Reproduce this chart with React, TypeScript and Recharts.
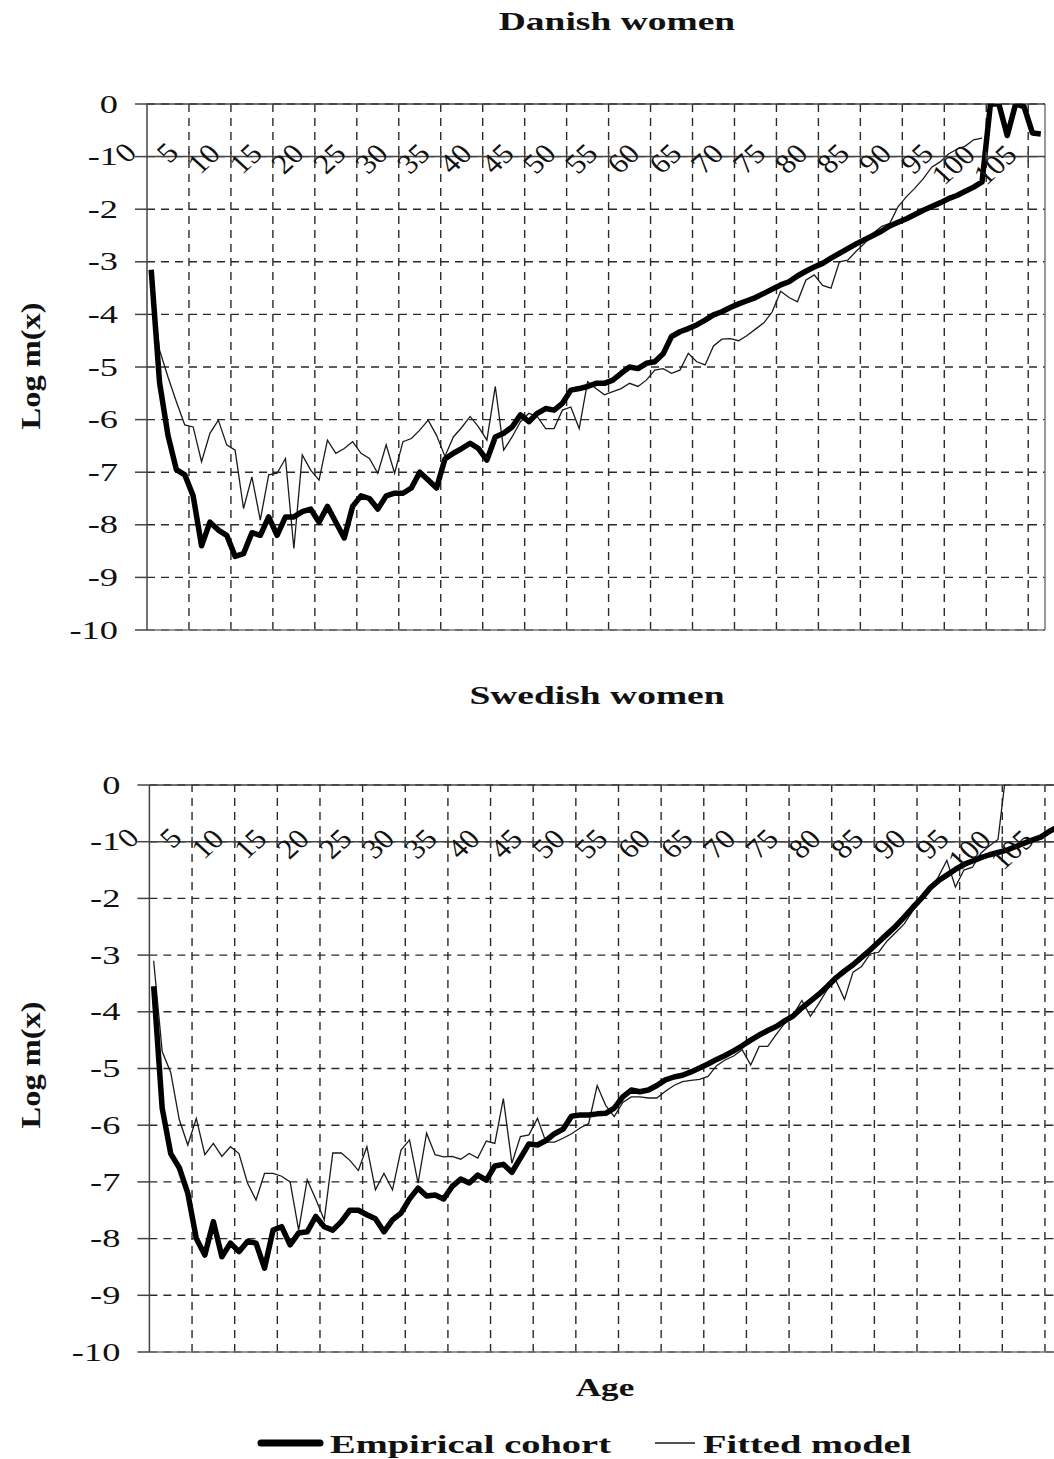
import { CartesianGrid, Line, LineChart, ReferenceDot, ReferenceLine, XAxis, YAxis } from 'recharts'

// Log mortality by age, Danish and Swedish women: empirical cohort vs fitted model.
const AGES = [
  0, 1, 2, 3, 4, 5, 6, 7, 8, 9, 10, 11, 12, 13, 14, 15, 16, 17, 18, 19, 20, 21, 22, 23, 24, 25, 26, 27, 28, 29,
  30, 31, 32, 33, 34, 35, 36, 37, 38, 39, 40, 41, 42, 43, 44, 45, 46, 47, 48, 49, 50, 51, 52, 53, 54, 55, 56, 57,
  58, 59, 60, 61, 62, 63, 64, 65, 66, 67, 68, 69, 70, 71, 72, 73, 74, 75, 76, 77, 78, 79, 80, 81, 82, 83, 84, 85,
  86, 87, 88, 89, 90, 91, 92, 93, 94, 95, 96, 97, 98, 99, 100, 101, 102, 103, 104, 105, 106,
]
const AGE_LABELS = [0, 5, 10, 15, 20, 25, 30, 35, 40, 45, 50, 55, 60, 65, 70, 75, 80, 85, 90, 95, 100, 105]
// category boundaries, where Excel put the vertical gridlines
const GRID_AGES = [4.5, 9.5, 14.5, 19.5, 24.5, 29.5, 34.5, 39.5, 44.5, 49.5, 54.5, 59.5, 64.5, 69.5, 74.5, 79.5, 84.5, 89.5, 94.5, 99.5, 104.5]
const Y_TICKS = [0, -1, -2, -3, -4, -5, -6, -7, -8, -9, -10]

const DANISH_EMPIRICAL = [
  -3.15, -5.3, -6.3, -6.95, -7.05, -7.45, -8.4, -7.95, -8.1, -8.2, -8.6, -8.55, -8.15, -8.2, -7.85, -8.2, -7.85,
  -7.85, -7.75, -7.7, -7.95, -7.65, -7.95, -8.25, -7.65, -7.45, -7.5, -7.7, -7.45, -7.4, -7.4, -7.3, -7.0, -7.15,
  -7.3, -6.75, -6.64, -6.55, -6.45, -6.55, -6.77, -6.33, -6.26, -6.14, -5.91, -6.04, -5.88, -5.79, -5.82, -5.69,
  -5.44, -5.41, -5.37, -5.31, -5.31, -5.25, -5.12, -5.0, -5.03, -4.93, -4.9, -4.75, -4.42, -4.33, -4.27, -4.2,
  -4.11, -4.01, -3.95, -3.87, -3.8, -3.74, -3.68, -3.6, -3.52, -3.44, -3.38, -3.27, -3.18, -3.1, -3.03, -2.93,
  -2.84, -2.75, -2.66, -2.58, -2.5, -2.42, -2.32, -2.25, -2.18, -2.1, -2.02, -1.95, -1.88, -1.8, -1.74, -1.66,
  -1.58, -1.48, 0, 0, -0.6, 0, -0.05, -0.55, -0.57,
]
const DANISH_FITTED = [
  -3.3, -4.68, -5.19, -5.66, -6.1, -6.14, -6.8, -6.26, -6.01, -6.48, -6.58, -7.69, -7.09, -7.91, -7.05, -7.02,
  -6.74, -8.45, -6.67, -6.96, -7.15, -6.39, -6.64, -6.55, -6.42, -6.64, -6.74, -7.02, -6.48, -7.02, -6.42, -6.36,
  -6.2, -6.01, -6.3, -6.7, -6.33, -6.15, -5.94, -6.14, -6.39, -5.37, -6.58, -6.33, -6.04, -5.88, -5.94, -6.17,
  -6.17, -5.82, -5.76, -6.17, -5.28, -5.41, -5.53, -5.47, -5.41, -5.31, -5.37, -5.25, -5.06, -5.03, -5.12, -5.06,
  -4.74, -4.9, -4.96, -4.6, -4.47, -4.46, -4.5, -4.4, -4.28, -4.16, -3.95, -3.56, -3.68, -3.76, -3.35, -3.25,
  -3.45, -3.5, -3.0, -2.97, -2.8, -2.65, -2.46, -2.33, -2.27, -1.95, -1.76, -1.6, -1.42, -1.2, -1.1, -0.95, -0.86,
  -0.8, -0.68, -0.65, null, null, null, null, null, null, null,
]
const SWEDISH_EMPIRICAL = [
  -3.55, -5.7, -6.5, -6.75, -7.2, -8.0, -8.29, -7.7, -8.32, -8.08, -8.23, -8.05, -8.08, -8.52, -7.85, -7.79, -8.11,
  -7.9, -7.88, -7.61, -7.79, -7.85, -7.7, -7.5, -7.5, -7.58, -7.65, -7.88, -7.67, -7.55, -7.3, -7.11, -7.25, -7.23,
  -7.3, -7.08, -6.95, -7.02, -6.88, -6.97, -6.72, -6.69, -6.83, -6.58, -6.33, -6.35, -6.27, -6.15, -6.07, -5.84,
  -5.82, -5.82, -5.8, -5.79, -5.7, -5.5, -5.38, -5.41, -5.38, -5.3, -5.2, -5.15, -5.12, -5.06, -4.99, -4.92, -4.84,
  -4.77, -4.69, -4.6, -4.5, -4.41, -4.33, -4.26, -4.16, -4.07, -3.93, -3.81, -3.69, -3.55, -3.4, -3.28, -3.17,
  -3.04, -2.91, -2.77, -2.63, -2.49, -2.33, -2.16, -2.0, -1.82, -1.69, -1.59, -1.49, -1.4, -1.34, -1.28, -1.23,
  -1.19, -1.15, -1.09, -1.03, -0.97, -0.92, -0.82, -0.74,
]
const SWEDISH_FITTED = [
  -3.1, -4.7, -5.07, -5.9, -6.35, -5.88, -6.52, -6.32, -6.55, -6.38, -6.5, -7.02, -7.32, -6.85, -6.85, -6.9, -7.0,
  -7.85, -6.96, -7.3, -7.67, -6.49, -6.49, -6.62, -6.8, -6.38, -7.14, -6.85, -7.14, -6.44, -6.26, -7.02, -6.14,
  -6.52, -6.56, -6.55, -6.6, -6.5, -6.58, -6.28, -6.32, -5.53, -6.67, -6.2, -6.17, -5.88, -6.3, -6.3, -6.23, -6.15,
  -6.05, -5.97, -5.3, -5.65, -5.85, -5.6, -5.5, -5.5, -5.52, -5.52, -5.4, -5.3, -5.23, -5.21, -5.19, -5.14, -4.95,
  -4.85, -4.78, -4.67, -4.94, -4.61, -4.61, -4.4, -4.2, -4.05, -3.8, -4.08, -3.85, -3.6, -3.45, -3.78, -3.3, -3.2,
  -2.98, -2.95, -2.75, -2.6, -2.45, -2.22, -2.05, -1.88, -1.62, -1.33, -1.8, -1.5, -1.45, -1.2, -1.07, -0.96, 0.3,
  null, null, null, null, null, null,
]

const SERIF = '"Liberation Serif", "Times New Roman", serif'
const INK = '#111'
const GRID = '#2a2a2a'
const AXIS = '#444'

const YTick = (p: any) => (
  <text
    transform={`translate(${p.x},${p.y}) scale(1.4,1)`}
    textAnchor="end"
    dominantBaseline="central"
    fontSize={26}
    fontFamily={SERIF}
    fill={INK}
  >
    {p.payload.value}
  </text>
)

// Excel drew the age labels rotated and sitting on the axis that crosses at -1
const AgeLabel = ({ cx, cy, text }: { cx: number; cy: number; text: string }) => {
  const n = text.length
  return (
    <text
      transform={`translate(${cx - 20 - 5.8 * n},${cy - 10 + 6 * n}) scale(1.1,1) rotate(-45)`}
      textAnchor="middle"
      dominantBaseline="central"
      fontSize={28}
      fontFamily={SERIF}
      fill={INK}
    >
      {text}
    </text>
  )
}

const AxisTick = ({ cx, cy }: { cx: number; cy: number }) => (
  <line x1={cx} x2={cx} y1={cy - 5} y2={cy + 5} stroke={AXIS} strokeWidth={1.5} />
)

function Panel({
  empirical,
  fitted,
  width,
  height,
  margin,
}: {
  empirical: (number | null)[]
  fitted: (number | null)[]
  width: number
  height: number
  margin: { top: number; right: number; bottom: number; left: number }
}) {
  const data = AGES.map((age, i) => ({ age, empirical: empirical[i], fitted: fitted[i] }))
  return (
    <LineChart width={width} height={height} data={data} margin={margin}>
      <CartesianGrid horizontal vertical={false} stroke={GRID} strokeWidth={1.4} strokeDasharray="8 6" />
      {GRID_AGES.map((a) => (
        <ReferenceLine key={`g${a}`} x={a} stroke={GRID} strokeWidth={1.4} strokeDasharray="8 6" />
      ))}
      <ReferenceLine y={0} stroke={AXIS} strokeWidth={1.5} />
      <ReferenceLine y={-10} stroke="#777" strokeWidth={1.5} />
      <ReferenceLine x={106.5} stroke="#777" strokeWidth={1.5} />
      <ReferenceLine y={-1} stroke={AXIS} strokeWidth={1.5} />
      {GRID_AGES.map((a) => (
        <ReferenceDot key={`t${a}`} x={a} y={-1} r={0} shape={(p: any) => <AxisTick cx={p.cx} cy={p.cy} />} />
      ))}
      {AGE_LABELS.map((a) => (
        <ReferenceDot
          key={`l${a}`}
          x={a}
          y={-1}
          r={0}
          shape={(p: any) => <AgeLabel cx={p.cx} cy={p.cy} text={String(a)} />}
        />
      ))}
      <XAxis type="number" dataKey="age" domain={[-0.5, 106.5]} hide />
      <YAxis
        type="number"
        domain={[-10, 0]}
        ticks={Y_TICKS}
        interval={0}
        allowDataOverflow
        width={60}
        tickSize={12}
        tickMargin={17}
        tick={YTick}
        axisLine={{ stroke: AXIS, strokeWidth: 1.5 }}
        tickLine={{ stroke: AXIS, strokeWidth: 1.5 }}
      />
      <Line
        dataKey="fitted"
        stroke="#1a1a1a"
        strokeWidth={1.3}
        dot={false}
        isAnimationActive={false}
        type="linear"
      />
      <Line
        dataKey="empirical"
        stroke="#000"
        strokeWidth={5.5}
        strokeLinejoin="round"
        dot={false}
        isAnimationActive={false}
        type="linear"
      />
    </LineChart>
  )
}

export default function App() {
  return (
    <div
      style={{
        position: 'absolute',
        left: 0,
        top: 0,
        width: 1054,
        height: 1459,
        overflow: 'hidden',
        background: '#fff',
      }}
    >
      <div style={{ position: 'absolute', left: 0, top: 0 }}>
        <Panel
          empirical={DANISH_EMPIRICAL}
          fitted={DANISH_FITTED}
          width={1054}
          height={660}
          margin={{ top: 104, right: 9, bottom: 30, left: 87 }}
        />
      </div>
      <div style={{ position: 'absolute', left: 0, top: 740 }}>
        <Panel
          empirical={SWEDISH_EMPIRICAL}
          fitted={SWEDISH_FITTED}
          width={1080}
          height={640}
          margin={{ top: 45, right: 18, bottom: 28, left: 89.4 }}
        />
      </div>
      <svg
        width={1054}
        height={1459}
        style={{ position: 'absolute', left: 0, top: 0, pointerEvents: 'none' }}
        fontFamily={SERIF}
        fill={INK}
        fontWeight="bold"
      >
        <text transform="translate(617,22) scale(1.5,1)" textAnchor="middle" dominantBaseline="central" fontSize={25}>
          Danish women
        </text>
        <text transform="translate(597,696) scale(1.5,1)" textAnchor="middle" dominantBaseline="central" fontSize={25}>
          Swedish women
        </text>
        <text transform="translate(30,366) rotate(-90) scale(1.2,1)" textAnchor="middle" dominantBaseline="central" fontSize={27}>
          Log m(x)
        </text>
        <text transform="translate(30,1065) rotate(-90) scale(1.2,1)" textAnchor="middle" dominantBaseline="central" fontSize={27}>
          Log m(x)
        </text>
        <text transform="translate(605,1387) scale(1.35,1)" textAnchor="middle" dominantBaseline="central" fontSize={26}>
          Age
        </text>
        <line x1={261} x2={320} y1={1443} y2={1443} stroke="#000" strokeWidth={7} strokeLinecap="round" />
        <text transform="translate(330,1444) scale(1.48,1)" dominantBaseline="central" fontSize={26}>
          Empirical cohort
        </text>
        <line x1={655} x2={695} y1={1443} y2={1443} stroke="#1a1a1a" strokeWidth={1.3} />
        <text transform="translate(703,1444) scale(1.48,1)" dominantBaseline="central" fontSize={26}>
          Fitted model
        </text>
      </svg>
    </div>
  )
}
